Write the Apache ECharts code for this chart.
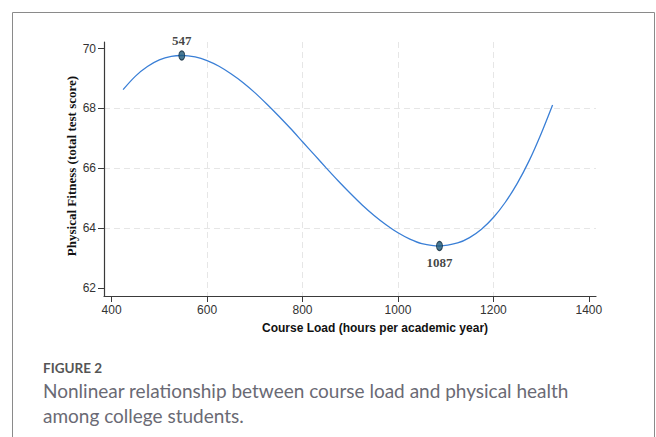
<!DOCTYPE html>
<html>
<head>
<meta charset="utf-8">
<script src="https://cdn.jsdelivr.net/npm/echarts@6/dist/echarts.min.js"></script>
<style>
  html, body { margin: 0; padding: 0; background: #fff; }
  #fig { width: 656px; height: 437px; }
</style>
</head>
<body>
<div id="fig"></div>
<script>
// values (course load hours -> fitness score)
var courseLoad = [424, 450, 475, 500, 525, 547, 575, 600, 625, 650, 675, 700, 725, 750, 775, 800, 825, 850, 875, 900,
                  925, 950, 975, 1000, 1025, 1050, 1087, 1125, 1150, 1175, 1200, 1225, 1250, 1275, 1300, 1324];
var fitness = [68.63, 69.08, 69.40, 69.62, 69.74, 69.77, 69.72, 69.60, 69.41, 69.16, 68.87, 68.53, 68.15, 67.75, 67.33, 66.89, 66.45, 66.01, 65.58, 65.17,
               64.78, 64.43, 64.12, 63.85, 63.64, 63.49, 63.41, 63.51, 63.69, 63.97, 64.36, 64.87, 65.50, 66.26, 67.16, 68.12];
// turning points marked in the figure
var turnX = [547, 1087];
var turnY = [69.77, 63.41];
var xTicks = [400, 600, 800, 1000, 1200, 1400];
var yTicks = [62, 64, 66, 68, 70];

var chart = echarts.init(document.getElementById('fig'), null, { renderer: 'svg' });

var lineData = courseLoad.map(function (x, i) { return [x, fitness[i]]; });
var turnData = turnX.map(function (x, i) {
    return {
        value: [x, turnY[i]],
        label: { position: i === 0 ? 'top' : 'bottom', distance: i === 0 ? 3 : 5 }
    };
});

var gridCol = '#e6e6e6';
var axisCol = '#3a3a3a';
var tickFont = 'Arial, "Liberation Sans", sans-serif';

var option = {
    animation: false,
    backgroundColor: '#fff',
    grid: { left: 104, right: 60, top: 42, bottom: 141, containLabel: false },
    xAxis: {
        type: 'value',
        min: 384,
        max: 1415,
        axisLine: { lineStyle: { color: axisCol, width: 1.2 } },
        axisTick: { show: true, length: 6, customValues: xTicks, lineStyle: { color: axisCol } },
        axisLabel: {
            customValues: xTicks,
            formatter: function (v) { return String(v); },
            color: '#333', fontSize: 12, fontFamily: tickFont, margin: 8
        },
        splitLine: {
            show: true, showMinLine: false, showMaxLine: false,
            lineStyle: { color: gridCol, type: [6, 4], width: 1 }
        }
    },
    yAxis: {
        type: 'value',
        min: 61.74,
        max: 70.22,
        axisLine: { show: true, lineStyle: { color: axisCol, width: 1.2 } },
        axisTick: { show: true, length: 6, customValues: yTicks, lineStyle: { color: axisCol } },
        axisLabel: {
            customValues: yTicks,
            formatter: function (v) { return String(v); },
            color: '#333', fontSize: 12, fontFamily: tickFont, margin: 8
        },
        splitLine: {
            show: true, showMinLine: false, showMaxLine: false,
            lineStyle: { color: gridCol, type: [6, 4], width: 1 }
        }
    },
    series: [
        {
            type: 'line',
            data: lineData,
            smooth: 0.3,
            showSymbol: false,
            lineStyle: { color: '#3a7fd6', width: 1.3 },
            z: 2
        },
        {
            type: 'scatter',
            data: turnData,
            symbol: 'circle',
            symbolSize: [6, 9],
            itemStyle: { color: '#1d5878', borderColor: '#0c2638', borderWidth: 1 },
            label: {
                show: true,
                formatter: function (p) { return p.value[0]; },
                fontFamily: '"Liberation Serif", "Times New Roman", serif',
                fontWeight: 'bold',
                fontSize: 13,
                color: '#111'
            },
            z: 3
        }
    ],
    graphic: [
        {
            type: 'rect',
            shape: { x: 12.5, y: 12.5, width: 642, height: 440 },
            style: { fill: null, stroke: '#8a8a8a', lineWidth: 1 },
            silent: true
        },
        {
            type: 'text',
            x: 71, y: 166,
            rotation: Math.PI / 2,
            style: {
                text: 'Physical Fitness (total test score)',
                font: 'bold 13px "Liberation Serif", "Times New Roman", serif',
                fill: '#111', align: 'center', verticalAlign: 'middle'
            }
        },
        {
            type: 'text',
            x: 375, y: 328,
            style: {
                text: 'Course Load (hours per academic year)',
                font: 'bold 12px "Liberation Sans", Arial, sans-serif',
                fill: '#111', align: 'center', verticalAlign: 'middle'
            }
        },
        {
            type: 'text',
            x: 43, y: 368,
            style: {
                text: 'FIGURE 2',
                font: 'bold 13.5px Lato, "Open Sans", sans-serif',
                fill: '#555', align: 'left', verticalAlign: 'middle'
            }
        },
        {
            type: 'text',
            x: 43, y: 390,
            style: {
                text: 'Nonlinear relationship between course load and physical health',
                font: '19px Lato, "Open Sans", sans-serif',
                fill: '#6a6a74', align: 'left', verticalAlign: 'middle'
            }
        },
        {
            type: 'text',
            x: 43, y: 415,
            style: {
                text: 'among college students.',
                font: '19px Lato, "Open Sans", sans-serif',
                fill: '#6a6a74', align: 'left', verticalAlign: 'middle'
            }
        }
    ]
};

chart.setOption(option);
</script>
</body>
</html>
